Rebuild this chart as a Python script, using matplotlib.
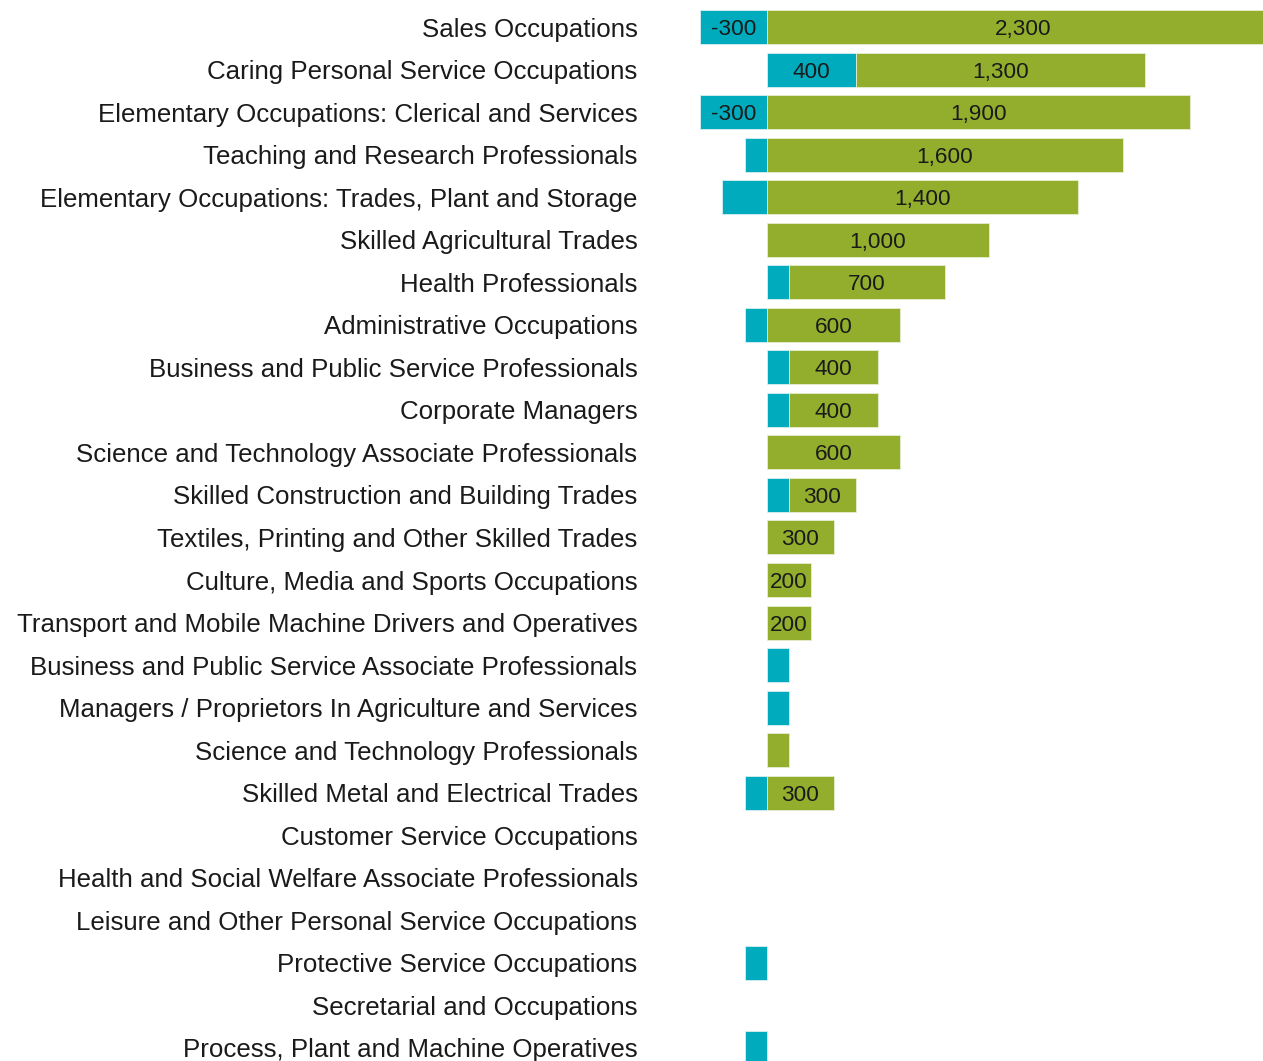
import matplotlib.pyplot as plt

plt.rcParams['font.family'] = ['Liberation Sans', 'DejaVu Sans']

occupations = [
    'Sales Occupations',
    'Caring Personal Service Occupations',
    'Elementary Occupations: Clerical and Services',
    'Teaching and Research Professionals',
    'Elementary Occupations: Trades, Plant and Storage',
    'Skilled Agricultural Trades',
    'Health Professionals',
    'Administrative Occupations',
    'Business and Public Service Professionals',
    'Corporate Managers',
    'Science and Technology Associate Professionals',
    'Skilled Construction and Building Trades',
    'Textiles, Printing and Other Skilled Trades',
    'Culture, Media and Sports Occupations',
    'Transport and Mobile Machine Drivers and Operatives',
    'Business and Public Service Associate Professionals',
    'Managers / Proprietors In Agriculture and Services',
    'Science and Technology Professionals',
    'Skilled Metal and Electrical Trades',
    'Customer Service Occupations',
    'Health and Social Welfare Associate Professionals',
    'Leisure and Other Personal Service Occupations',
    'Protective Service Occupations',
    'Secretarial and Occupations',
    'Process, Plant and Machine Operatives',
]
# teal series (can be negative) and green series
expansion = [-300, 400, -300, -100, -200, 0, 100, -100, 100, 100, 0, 100, 0, 0, 0,
             100, 100, 0, -100, 0, 0, 0, -100, 0, -100]
replacement = [2300, 1300, 1900, 1600, 1400, 1000, 700, 600, 400, 400, 600, 300, 300,
               200, 200, 0, 0, 100, 300, 0, 0, 0, 0, 0, 0]

teal = '#00abbd'
green = '#93ae2d'

fig = plt.figure(figsize=(12.63, 10.61), dpi=100)
ax = fig.add_axes([700 / 1263, 0, 563 / 1263, 1])

y = list(range(len(occupations)))
green_left = [max(e, 0) for e in expansion]
ax.barh(y, expansion, height=0.8, color=teal, edgecolor='#d9f0f2',
        linewidth=[0.6 if v else 0 for v in expansion])
ax.barh(y, replacement, left=green_left, height=0.8, color=green, edgecolor='#e6edd0',
        linewidth=[0.6 if v else 0 for v in replacement])

# value labels, only where the text fits in the bar
for i, (e, r) in enumerate(zip(expansion, replacement)):
    if abs(e) >= 300:
        ax.text(e / 2, i, f'{e:,}', ha='center', va='center_baseline', fontsize=16.2, color='#1a1a1a')
    if r >= 200:
        ax.text(green_left[i] + r / 2, i, f'{r:,}', ha='center', va='center_baseline', fontsize=16.2, color='#1a1a1a')

ax.set_xlim(-300, 2229)
ax.set_ylim(24.307, -0.635)
ax.set_yticks(y)
ax.set_yticklabels(occupations, fontsize=18.65, color='#1a1a1a')
ax.tick_params(axis='y', length=0, pad=45)
ax.set_xticks([])
for s in ax.spines.values():
    s.set_visible(False)

fig.savefig('out.png', dpi=100)
